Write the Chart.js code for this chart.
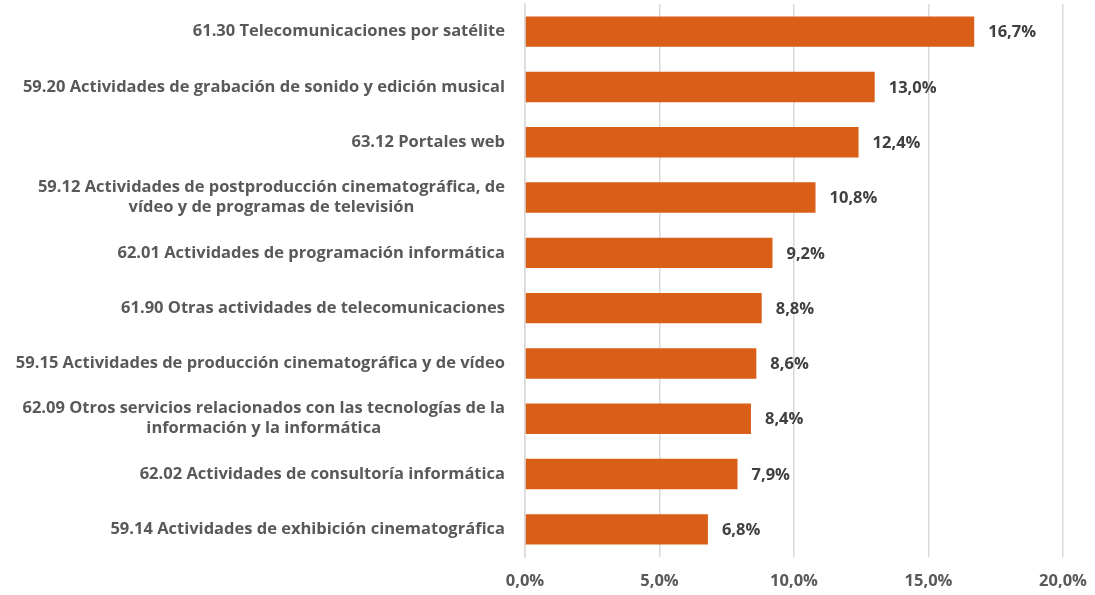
<!DOCTYPE html>
<html lang="es">
<head>
<meta charset="UTF-8">
<title>Actividades</title>
<script src="https://cdn.jsdelivr.net/npm/chart.js"></script>
<style>
  html, body { margin: 0; padding: 0; background: #fff; overflow: hidden; }
  #wrap { width: 1095px; height: 595px; position: relative; }
</style>
</head>
<body>
<div id="wrap"><canvas id="chart"></canvas></div>
<script>
// Categorías (las etiquetas largas se parten en dos líneas)
const categories = [
  ['61.30 Telecomunicaciones por satélite'],
  ['59.20 Actividades de grabación de sonido y edición musical'],
  ['63.12 Portales web'],
  ['59.12 Actividades de postproducción cinematográfica, de', 'vídeo y de programas de televisión'],
  ['62.01 Actividades de programación informática'],
  ['61.90 Otras actividades de telecomunicaciones'],
  ['59.15 Actividades de producción cinematográfica y de vídeo'],
  ['62.09 Otros servicios relacionados con las tecnologías de la', 'información y la informática'],
  ['62.02 Actividades de consultoría informática'],
  ['59.14 Actividades de exhibición cinematográfica']
];
const values = [16.7, 13.0, 12.4, 10.8, 9.2, 8.8, 8.6, 8.4, 7.9, 6.8];
const xTicks = [0, 5, 10, 15, 20];

const FONT = '"Open Sans", "Noto Sans", sans-serif';
const SIZE = 16.5;
const fmt = v => v.toFixed(1).replace('.', ',') + '%';

// Etiquetas del eje Y: bloque alineado a la derecha, líneas centradas entre sí
const yLabels = {
  id: 'yLabels',
  afterDraw(chart) {
    const ctx = chart.ctx;
    const y = chart.scales.y;
    const right = chart.chartArea.left - 20;
    const lh = 20;
    ctx.save();
    ctx.font = 'bold ' + SIZE + 'px ' + FONT;
    ctx.fillStyle = '#595959';
    ctx.textAlign = 'center';
    ctx.textBaseline = 'middle';
    categories.forEach((lines, i) => {
      const w = Math.max(...lines.map(l => ctx.measureText(l).width));
      const cx = right - w / 2;
      const cy = y.getPixelForValue(i);
      const top = cy - (lines.length - 1) * lh / 2;
      lines.forEach((l, k) => ctx.fillText(l, cx, top + k * lh));
    });
    ctx.restore();
  }
};

// Valor de cada barra a su derecha
const barValues = {
  id: 'barValues',
  afterDatasetsDraw(chart) {
    const ctx = chart.ctx;
    const meta = chart.getDatasetMeta(0);
    ctx.save();
    ctx.font = 'bold ' + SIZE + 'px ' + FONT;
    ctx.fillStyle = '#404040';
    ctx.textAlign = 'left';
    ctx.textBaseline = 'middle';
    meta.data.forEach((bar, i) => {
      ctx.fillText(fmt(values[i]), bar.x + 14, bar.y + 1);
    });
    ctx.restore();
  }
};

new Chart(document.getElementById('chart'), {
  type: 'bar',
  data: {
    labels: categories.map(c => c.join(' ')),
    datasets: [{
      data: values,
      backgroundColor: '#D95F18',
      borderWidth: 0,
      barPercentage: 0.55,
      categoryPercentage: 1
    }]
  },
  options: {
    indexAxis: 'y',
    responsive: true,
    maintainAspectRatio: false,
    animation: false,
    layout: { padding: { top: 4, right: 32, bottom: 0, left: 0 } },
    plugins: {
      legend: { display: false },
      tooltip: { enabled: false }
    },
    scales: {
      x: {
        min: 0,
        max: 20,
        afterBuildTicks: s => { s.ticks = xTicks.map(v => ({ value: v })); },
        afterFit: s => {
          s.height = 38;
          s.paddingLeft = 0;
          s.paddingRight = 0;
        },
        grid: { color: '#D9D9D9', lineWidth: 1.5, drawTicks: false },
        border: { display: false },
        ticks: {
          padding: 14,
          color: '#595959',
          font: { family: FONT, size: SIZE, weight: 'bold' },
          callback: v => fmt(v)
        }
      },
      y: {
        afterFit: s => { s.width = 525; },
        grid: { display: false, drawTicks: false },
        border: { display: true, color: '#D9D9D9', width: 1.5 },
        ticks: { display: false }
      }
    }
  },
  plugins: [yLabels, barValues]
});
</script>
</body>
</html>
